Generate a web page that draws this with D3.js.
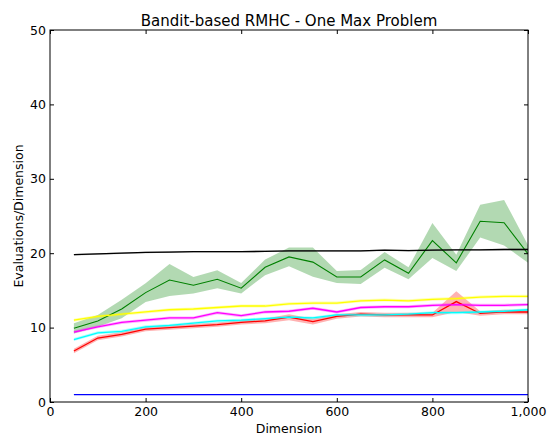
<!DOCTYPE html>
<html>
<head>
<meta charset="utf-8">
<script src="https://cdn.jsdelivr.net/npm/d3@7"></script>
<style>
  html, body { margin: 0; padding: 0; background: #fff; }
  svg { display: block; font-family: "DejaVu Sans", sans-serif; }
</style>
</head>
<body>
<svg id="chart" width="549" height="435"></svg>
<script>
// ---- data ----
const dimensions = [50,100,150,200,250,300,350,400,450,500,550,600,650,700,750,800,850,900,950,1000];

const blackMean   = [19.8,19.9,20.0,20.1,20.15,20.2,20.2,20.2,20.25,20.3,20.3,20.3,20.3,20.4,20.35,20.4,20.45,20.45,20.5,20.5];
const blackErr    = [0.1,0.1,0.1,0.1,0.1,0.1,0.1,0.1,0.1,0.1,0.1,0.1,0.1,0.1,0.1,0.1,0.1,0.1,0.1,0.1];

const greenMean   = [9.9,10.9,12.5,14.7,16.4,15.7,16.5,15.3,18.1,19.5,18.8,16.8,16.8,19.1,17.3,21.7,18.7,24.3,24.1,19.9];
const greenErr    = [0.7,0.8,1.25,1.25,2.15,1.1,1.2,0.7,1.05,1.25,1.95,0.8,0.95,1.05,0.8,2.35,1.1,2.2,3.05,1.2];

const yellowMean  = [11.0,11.5,11.8,12.1,12.4,12.5,12.7,12.9,12.9,13.2,13.3,13.3,13.6,13.7,13.6,13.8,13.9,14.1,14.2,14.2];
const yellowErr   = [0.2,0.2,0.2,0.2,0.2,0.2,0.2,0.2,0.2,0.2,0.2,0.2,0.2,0.2,0.2,0.2,0.2,0.2,0.2,0.2];

const magentaMean = [9.4,10.1,10.7,11.0,11.3,11.3,12.0,11.6,12.1,12.2,12.6,12.1,12.7,12.8,12.8,13.0,13.1,13.0,13.0,13.1];
const magentaErr  = [0.2,0.2,0.2,0.2,0.2,0.2,0.2,0.2,0.2,0.2,0.2,0.2,0.2,0.2,0.2,0.2,0.2,0.2,0.2,0.2];

const cyanMean    = [8.4,9.3,9.5,10.1,10.3,10.6,10.9,11.0,11.2,11.4,11.3,11.7,11.7,11.7,11.8,12.0,12.0,12.1,12.2,12.4];
const cyanErr     = [0.2,0.2,0.2,0.2,0.2,0.2,0.2,0.2,0.2,0.2,0.2,0.2,0.2,0.2,0.2,0.2,0.2,0.2,0.2,0.2];

const redMean     = [6.85,8.6,9.1,9.8,10.0,10.2,10.4,10.7,10.9,11.4,10.8,11.5,11.8,11.7,11.7,11.7,13.5,11.9,12.1,12.1];
const redErr      = [0.3,0.3,0.3,0.3,0.3,0.3,0.3,0.3,0.3,0.4,0.4,0.3,0.3,0.3,0.3,0.3,1.4,0.3,0.3,0.3];

const blueMean    = [1,1,1,1,1,1,1,1,1,1,1,1,1,1,1,1,1,1,1,1];
const blueErr     = [0,0,0,0,0,0,0,0,0,0,0,0,0,0,0,0,0,0,0,0];

const xTicks = [0,200,400,600,800,1000];
const yTicks = [0,10,20,30,40,50];

const titleText = "Bandit-based RMHC - One Max Problem";
const xLabel = "Dimension";
const yLabel = "Evaluations/Dimension";

// ---- layout ----
const margin = {left: 50, right: 21, top: 30, bottom: 33};
const W = 549, H = 435;
const svg = d3.select("#chart");

const x = d3.scaleLinear().domain([0, 1000]).range([margin.left, W - margin.right]);
const y = d3.scaleLinear().domain([0, 50]).range([H - margin.bottom, margin.top]);

const series = [
  {mean: blueMean,    err: blueErr,    color: "#0000ff", lw: 1.3},
  {mean: greenMean,   err: greenErr,   color: "#008000", lw: 1.1},
  {mean: redMean,     err: redErr,     color: "#ff0000", lw: 1.3},
  {mean: cyanMean,    err: cyanErr,    color: "#00ffff", lw: 1.3},
  {mean: magentaMean, err: magentaErr, color: "#ff00ff", lw: 1.3},
  {mean: yellowMean,  err: yellowErr,  color: "#ffff00", lw: 1.3},
  {mean: blackMean,   err: blackErr,   color: "#000000", lw: 1.3}
];

const clip = svg.append("clipPath").attr("id", "clip")
  .append("rect")
  .attr("x", x(0)).attr("y", y(50))
  .attr("width", x(1000) - x(0)).attr("height", y(0) - y(50));

const plot = svg.append("g").attr("clip-path", "url(#clip)");

const area = d3.area()
  .x((d, i) => x(dimensions[i]))
  .y0(d => y(d[0]))
  .y1(d => y(d[1]));
const line = d3.line()
  .x((d, i) => x(dimensions[i]))
  .y(d => y(d));

series.forEach(s => {
  const band = s.mean.map((m, i) => [m - s.err[i], m + s.err[i]]);
  plot.append("path")
    .datum(band)
    .attr("d", area)
    .attr("fill", s.color)
    .attr("fill-opacity", 0.3)
    .attr("stroke", "none");
});
series.forEach(s => {
  plot.append("path")
    .datum(s.mean)
    .attr("d", line)
    .attr("fill", "none")
    .attr("stroke", s.color)
    .attr("stroke-width", s.lw)
    .attr("stroke-linejoin", "miter");
});

// ---- axes ----
const fmt = d3.format(",");
const fontSize = "12.5px";

const gx = svg.append("g")
  .attr("transform", `translate(0,${y(0)})`)
  .call(d3.axisBottom(x).tickValues(xTicks).tickFormat(fmt).tickSize(-4).tickSizeOuter(0).tickPadding(5));
const gy = svg.append("g")
  .attr("transform", `translate(${x(0)},0)`)
  .call(d3.axisLeft(y).tickValues(yTicks).tickSize(-4).tickSizeOuter(0).tickPadding(4));
const gt = svg.append("g")
  .attr("transform", `translate(0,${y(50)})`)
  .call(d3.axisTop(x).tickValues(xTicks).tickFormat("").tickSize(-4).tickSizeOuter(0));
const gr = svg.append("g")
  .attr("transform", `translate(${x(1000)},0)`)
  .call(d3.axisRight(y).tickValues(yTicks).tickFormat("").tickSize(-4).tickSizeOuter(0));

[gx, gy, gt, gr].forEach(g => {
  g.select(".domain").remove();
  g.selectAll(".tick line").attr("stroke", "#000").attr("stroke-width", 1);
  g.selectAll("text")
    .attr("fill", "#000")
    .style("font-family", "'DejaVu Sans', sans-serif")
    .style("font-size", fontSize);
});

svg.append("rect")
  .attr("x", x(0)).attr("y", y(50))
  .attr("width", x(1000) - x(0)).attr("height", y(0) - y(50))
  .attr("fill", "none").attr("stroke", "#000").attr("stroke-width", 1);

// ---- labels ----
svg.append("text")
  .attr("x", (x(0) + x(1000)) / 2).attr("y", 26)
  .attr("text-anchor", "middle")
  .style("font-size", "15px")
  .text(titleText);

svg.append("text")
  .attr("x", (x(0) + x(1000)) / 2).attr("y", 433)
  .attr("text-anchor", "middle")
  .style("font-size", fontSize)
  .text(xLabel);

svg.append("text")
  .attr("transform", `translate(23,${(y(0) + y(50)) / 2}) rotate(-90)`)
  .attr("text-anchor", "middle")
  .style("font-size", fontSize)
  .text(yLabel);
</script>
</body>
</html>
